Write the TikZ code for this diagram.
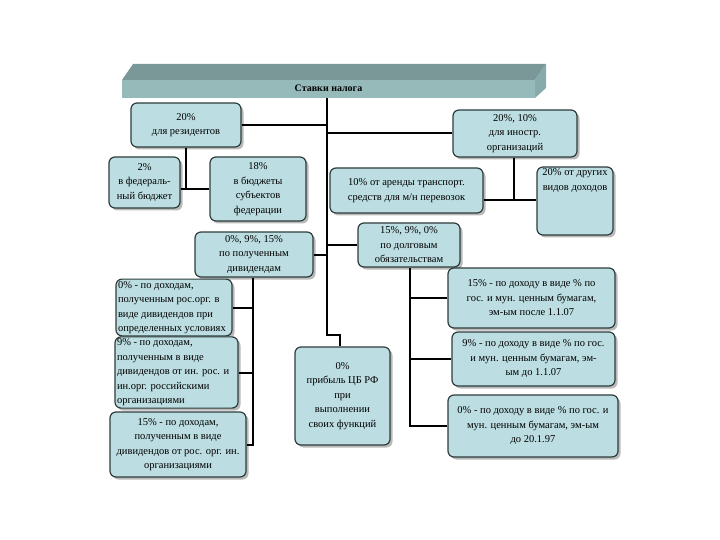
\documentclass[tikz,border=0pt]{standalone}
\usepackage{fontspec}
\setmainfont{Liberation Serif}
\usetikzlibrary{shadows}
\definecolor{boxfill}{HTML}{BCDDE1}
\definecolor{boxline}{HTML}{2E3C3C}
\definecolor{tfront}{HTML}{96BABA}
\definecolor{ttop}{HTML}{7A9898}
\definecolor{tside}{HTML}{88AAAA}
\begin{document}
\begin{tikzpicture}[x=1pt,y=-1pt,
  box/.style={draw=boxline, line width=1.2pt, fill=boxfill, rounded corners=6pt,
    drop shadow={shadow xshift=2.5pt, shadow yshift=-2.5pt, fill=black!50, opacity=0.55},
    align=center, font=\fontsize{10.5}{14.5}\selectfont, inner sep=2pt},
  conn/.style={line width=2pt, black},
  titlefront/.style={fill=tfront, inner sep=0pt, minimum width=413pt, minimum height=18pt, font=\bfseries\fontsize{10}{12}\selectfont}]
\useasboundingbox (0,0) rectangle (720,540);

% title bar
\fill[ttop] (122,80) -- (133,64) -- (546,64) -- (535,80) -- cycle;
\fill[tside] (535,80) -- (546,64) -- (546,88) -- (535,98) -- cycle;
\node[titlefront] (title) at (328.5,89) {\raisebox{2pt}{Ставки налога}};

% boxes
\node[box, minimum width=110pt, minimum height=44pt] (b20) at (186,125) {20\%\\для резидентов};
\node[box, minimum width=71pt, minimum height=51pt] (b2) at (144.5,182.5) {2\%\\в федераль-\\ный бюджет};
\node[box, minimum width=96pt, minimum height=64pt] (b18) at (258,189) {18\%\\в бюджеты\\субъектов\\федерации};
\node[box, minimum width=124pt, minimum height=47pt] (bin) at (515,133.5) {20\%, 10\%\\для иностр.\\организаций};
\node[box, minimum width=153pt, minimum height=45pt] (b10) at (406.5,190.5) {10\% от аренды транспорт.\\средств для м/н перевозок};
\node[box, minimum width=76pt, minimum height=62pt] (bdr) at (575,201) {20\% от других\\видов доходов\\[28pt]};
\node[box, minimum width=118pt, minimum height=45pt] (bdiv) at (254,254.5) {0\%, 9\%, 15\%\\по полученным\\дивидендам};
\node[box, minimum width=116pt, minimum height=55pt, text width=112pt, align=flush left] (b0d) at (174,307.5) {0\% - по доходам,\\полученным  рос.орг. в\\виде  дивидендов при\\определенных условиях};
\node[box, minimum width=123pt, minimum height=71pt, text width=119pt, align=flush left] (b9d) at (176.5,372.5) {9\% - по доходам,\\полученным в виде\\дивидендов от ин. рос. и\\ин.орг. российскими\\организациями};
\node[box, minimum width=136pt, minimum height=65pt] (b15d) at (178,444.5) {15\% - по доходам,\\полученным в виде\\дивидендов от рос. орг. ин.\\организациями};
\node[box, minimum width=95pt, minimum height=98pt] (bcb) at (342.5,396) {0\%\\прибыль ЦБ РФ\\при\\выполнении\\своих функций};
\node[box, minimum width=102pt, minimum height=44pt] (bdolg) at (409,245) {15\%, 9\%, 0\%\\по долговым\\обязательствам};
\node[box, minimum width=167pt, minimum height=60pt] (b15) at (531.5,298) {15\% - по доходу в виде \% по\\гос. и мун. ценным бумагам,\\эм-ым после 1.1.07};
\node[box, minimum width=163pt, minimum height=54pt] (b9) at (533.5,359) {9\% - по доходу в виде \% по гос.\\и мун. ценным бумагам, эм-\\ым до 1.1.07};
\node[box, minimum width=170pt, minimum height=62pt] (b0) at (533,426) {0\% - по доходу в виде \% по гос. и\\мун. ценным бумагам, эм-ым\\до 20.1.97};

% connectors
\coordinate (xt) at (327,0);
\coordinate (xb) at (340,0);
\coordinate (yb) at (0,335);
\coordinate (j1) at (186,189);
\coordinate (j2) at (514,200);
\coordinate (xd) at (253,0);
\coordinate (xo) at (410,0);

\draw[conn] (title.south -| xt) -- (xt |- yb) -- (xb |- yb) -- (bcb.north -| xb);
\draw[conn] (b20.east) -- (b20.east -| xt);
\draw[conn] (bin.west) -- (bin.west -| xt);
\draw[conn] (bdiv.east) -- (bdiv.east -| xt);
\draw[conn] (bdolg.west) -- (bdolg.west -| xt);

\draw[conn] (b20.south -| j1) -- (j1);
\draw[conn] (b2.east |- j1) -- (b18.west |- j1);

\draw[conn] (bin.south -| j2) -- (j2);
\draw[conn] (b10.east |- j2) -- (bdr.west |- j2);

\draw[conn] (bdiv.south -| xd) -- (b15d.east -| xd) -- (b15d.east);
\draw[conn] (b0d.east) -- (b0d.east -| xd);
\draw[conn] (b9d.east) -- (b9d.east -| xd);

\draw[conn] (bdolg.south -| xo) -- (b0.west -| xo) -- (b0.west);
\draw[conn] (b15.west) -- (b15.west -| xo);
\draw[conn] (b9.west) -- (b9.west -| xo);
\end{tikzpicture}
\end{document}
